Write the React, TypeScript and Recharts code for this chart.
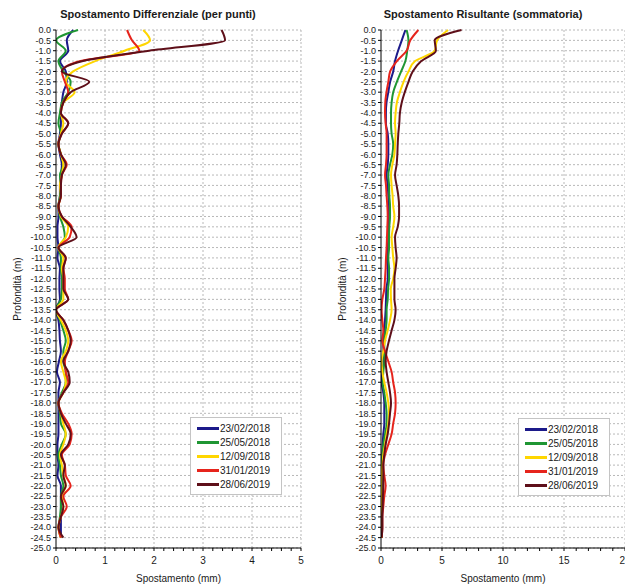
import { CartesianGrid, Label, Line, LineChart, ReferenceLine, XAxis, YAxis } from "recharts";

// profondità (m)
const depths = [
  0, -0.5, -1, -1.5, -2, -2.5, -3, -3.5, -4, -4.5, -5, -5.5, -6, -6.5, -7, -7.5, -8, -8.5, -9, -9.5,
  -10, -10.5, -11, -11.5, -12, -12.5, -13, -13.5, -14, -14.5, -15, -15.5, -16, -16.5, -17, -17.5,
  -18, -18.5, -19, -19.5, -20, -20.5, -21, -21.5, -22, -22.5, -23, -23.5, -24, -24.5,
];
const depthTicks = [...depths, -25];

const dates = ["23/02/2018", "25/05/2018", "12/09/2018", "31/01/2019", "28/06/2019"];

// spostamento differenziale (mm)
const diff1 = [
  0.35, 0.22, 0.25, 0.08, 0.2, 0.22, 0.15, 0.12, 0.1, 0.1, 0.08, 0.05, 0.08, 0.12, 0.1, 0.08, 0.08, 0.05, 0.05, 0.03,
  0.03, 0.05, 0.03, 0.08, 0.07, 0.07, 0.08, 0, 0.05, 0.07, 0.08, 0.1, 0.06, 0.02, 0.08, 0.05, 0.05, 0.05, 0.05, 0.05,
  0.03, 0.03, 0.05, 0.03, 0.1, 0.1, 0.1, 0.1, 0.1, 0.1,
];
const diff2 = [
  0.45, 0, 0.2, 0.05, 0.15, 0.3, 0.25, 0.12, 0.08, 0.05, 0.1, 0.05, 0.1, 0.15, 0.08, 0.1, 0.08, 0.05, 0.08, 0.15,
  0.18, 0.05, 0.1, 0.1, 0.12, 0.12, 0.1, 0, 0.08, 0.15, 0.2, 0.15, 0.15, 0.2, 0.2, 0.12, 0.05, 0.08, 0.1, 0.2,
  0.12, 0.05, 0.08, 0.1, 0.15, 0.1, 0.1, 0.08, 0.05, 0.1,
];
const diff3 = [
  1.78, 1.92, 1.4, 0.8, 0.35, 0.2, 0.38, 0.15, 0.1, 0.15, 0.1, 0.05, 0.1, 0.15, 0.12, 0.08, 0.1, 0.05, 0.1, 0.25,
  0.2, 0.05, 0.15, 0.12, 0.15, 0.15, 0.15, 0, 0.1, 0.2, 0.25, 0.2, 0.1, 0.15, 0.2, 0.15, 0.05, 0.1, 0.15, 0.2,
  0.15, 0.08, 0.12, 0.15, 0.2, 0.12, 0.15, 0.1, 0.05, 0.1,
];
const diff4 = [
  1.45, 1.55, 1.7, 0.5, 0.12, 0.18, 0.25, 0.15, 0.1, 0.25, 0.12, 0.05, 0.1, 0.22, 0.12, 0.1, 0.1, 0.05, 0.12, 0.32,
  0.28, 0.05, 0.2, 0.15, 0.18, 0.18, 0.25, 0, 0.15, 0.25, 0.32, 0.25, 0.18, 0.2, 0.25, 0.15, 0.05, 0.12, 0.25, 0.32,
  0.28, 0.12, 0.18, 0.2, 0.3, 0.15, 0.22, 0.1, 0.05, 0.1,
];
const diff5 = [
  3.38, 3.45, 1.9, 0.55, 0.12, 0.68, 0.3, 0.15, 0.1, 0.25, 0.12, 0.05, 0.1, 0.2, 0.12, 0.1, 0.1, 0.05, 0.12, 0.3,
  0.42, 0.05, 0.2, 0.15, 0.15, 0.15, 0.25, 0, 0.15, 0.25, 0.3, 0.25, 0.15, 0.25, 0.28, 0.15, 0.05, 0.1, 0.2, 0.3,
  0.25, 0.1, 0.18, 0.15, 0.2, 0.1, 0.15, 0.1, 0.05, 0.15,
];

// spostamento risultante (mm)
const cum1 = [
  2.0, 1.7, 1.4, 1.15, 1.0, 0.75, 0.6, 0.45, 0.4, 0.4, 0.55, 0.6, 0.6, 0.55, 0.46, 0.55, 0.6, 0.66, 0.66, 0.6,
  0.6, 0.55, 0.49, 0.55, 0.55, 0.44, 0.41, 0.38, 0.33, 0.27, 0.19, 0.19, 0.19, 0.11, 0.05, 0.19, 0.27, 0.27, 0.27, 0.19,
  0.14, 0.11, 0.05, 0.05, 0.05, 0.05, 0.05, 0.05, 0.05, 0.05,
];
const cum2 = [
  2.1, 2.25, 2.15, 2.0, 1.65, 1.3, 1.0, 0.87, 0.82, 0.82, 0.87, 1.0, 0.93, 0.74, 0.6, 0.66, 0.68, 0.74, 0.74, 0.68,
  0.66, 0.66, 0.6, 0.66, 0.66, 0.58, 0.55, 0.46, 0.46, 0.38, 0.27, 0.27, 0.27, 0.19, 0.14, 0.27, 0.38, 0.46, 0.46, 0.33,
  0.19, 0.11, 0.05, 0.05, 0.05, 0.05, 0.05, 0.05, 0.05, 0.05,
];
const cum3 = [
  5.5, 4.6, 4.4, 2.8, 2.25, 1.85, 1.55, 1.3, 1.2, 1.15, 1.2, 1.15, 1.1, 0.93, 0.82, 0.87, 0.95, 1.0, 1.1, 1.0,
  0.87, 0.93, 1.0, 1.1, 1.0, 0.8, 0.82, 0.87, 0.74, 0.55, 0.33, 0.19, 0.05, 0.11, 0.27, 0.46, 0.6, 0.66, 0.6, 0.46,
  0.33, 0.19, 0.11, 0.05, 0, 0.05, 0.05, 0.05, 0.05, 0.05,
];
const cum4 = [
  3.06, 2.4, 2.1, 1.3, 0.75, 0.6, 0.45, 0.35, 0.33, 0.38, 0.46, 0.46, 0.46, 0.41, 0.33, 0.41, 0.46, 0.52, 0.55, 0.52,
  0.49, 0.46, 0.41, 0.38, 0.33, 0.27, 0.11, 0.05, 0.11, 0.19, 0.11, 0.33, 0.6, 0.87, 1.0, 1.15, 1.2, 1.15, 1.0, 0.87,
  0.6, 0.33, 0.19, 0.27, 0.38, 0.27, 0.19, 0.11, 0.11, 0.05,
];
const cum5 = [
  6.6, 4.4, 4.5, 3.3, 2.6, 2.25, 1.95, 1.7, 1.55, 1.5, 1.42, 1.37, 1.34, 1.28, 1.15, 1.28, 1.42, 1.48, 1.48, 1.37,
  1.15, 1.2, 1.28, 1.2, 1.1, 1.1, 1.1, 1.2, 1.1, 0.87, 0.65, 0.46, 0.38, 0.46, 0.6, 0.74, 0.82, 0.74, 0.66, 0.55,
  0.38, 0.27, 0.19, 0.19, 0.19, 0.16, 0.14, 0.11, 0.11, 0.05,
];

const leftXTicks = [0, 1, 2, 3, 4, 5];
const rightXTicks = [0, 5, 10, 15, 20];

const seriesColors = ["#1c1a8a", "#1f9633", "#ffd600", "#e6241c", "#5e0f19"];
const series = dates.map((label, i) => ({ key: `s${i}`, label, color: seriesColors[i] }));

function buildRows(values: number[][]) {
  return depths.map((depth, i) => {
    const row: Record<string, number> = { depth };
    values.forEach((arr, k) => {
      row[`s${k}`] = arr[i];
    });
    return row;
  });
}

const diffRows = buildRows([diff1, diff2, diff3, diff4, diff5]);
const cumRows = buildRows([cum1, cum2, cum3, cum4, cum5]);

function minorTicks(max: number, step: number) {
  const n = Math.round(max / step);
  return Array.from({ length: n + 1 }, (_, i) => Math.round(i * step * 1000) / 1000);
}

const gridColor = "#b8b8b8";
const textColor = "#1a1a1a";

type PanelProps = {
  rows: Record<string, number>[];
  width: number;
  axisWidth: number;
  rightGap: number;
  majorTicks: number[];
  minorStep: number;
  labelOffset: number;
};

function ProfilePanel({ rows, width, axisWidth, rightGap, majorTicks, minorStep, labelOffset }: PanelProps) {
  const xMax = majorTicks[majorTicks.length - 1];
  return (
    <LineChart
      width={width}
      height={585}
      data={rows}
      layout="vertical"
      margin={{ top: 30, right: rightGap, bottom: 0, left: 0 }}
    >
      <CartesianGrid vertical={false} stroke={gridColor} strokeDasharray="2 2" />
      {majorTicks
        .filter((v) => v > 0)
        .map((v) => (
          <ReferenceLine key={v} x={v} stroke={gridColor} strokeDasharray="2 2" />
        ))}
      <XAxis
        type="number"
        domain={[0, xMax]}
        ticks={minorTicks(xMax, minorStep)}
        interval={0}
        allowDataOverflow
        height={37}
        tickSize={3}
        tickMargin={6}
        axisLine={{ stroke: "#000" }}
        tickLine={{ stroke: "#000" }}
        tick={{ fontSize: 10, fill: textColor }}
        tickFormatter={(v: number) => (majorTicks.includes(v) ? String(v) : "")}
      >
        <Label value="Spostamento (mm)" position="insideBottom" offset={3} style={{ fontSize: 10, fill: textColor }} />
      </XAxis>
      <YAxis
        type="number"
        dataKey="depth"
        domain={[-25, 0]}
        reversed
        ticks={depthTicks}
        interval={0}
        width={axisWidth}
        tickSize={3}
        axisLine={{ stroke: "#000" }}
        tickLine={{ stroke: "#000" }}
        tick={{ fontSize: 9, fill: textColor }}
        tickFormatter={(v: number) => v.toFixed(1)}
      >
        <Label
          value="Profondità (m)"
          angle={-90}
          position="insideLeft"
          offset={labelOffset}
          style={{ fontSize: 10, fill: textColor, textAnchor: "middle" }}
        />
      </YAxis>
      {series.map((s) => (
        <Line
          key={s.key}
          dataKey={s.key}
          name={s.label}
          type="monotone"
          stroke={s.color}
          strokeWidth={2}
          dot={false}
          isAnimationActive={false}
        />
      ))}
    </LineChart>
  );
}

function DateLegend({ left, top }: { left: number; top: number }) {
  return (
    <div
      style={{
        position: "absolute",
        left,
        top,
        width: 84,
        padding: "3px 0 3px 6px",
        background: "#fff",
        border: "1px solid #c4c4c4",
        fontSize: 10,
        color: textColor,
      }}
    >
      {series.map((s) => (
        <div key={s.key} style={{ display: "flex", alignItems: "center", height: 14 }}>
          <span style={{ display: "inline-block", width: 22, height: 3, background: s.color, marginRight: 1 }} />
          <span>{s.label}</span>
        </div>
      ))}
    </div>
  );
}

export default function App() {
  return (
    <div
      style={{
        position: "fixed",
        left: 0,
        top: 0,
        width: 625,
        height: 585,
        overflow: "hidden",
        background: "#fff",
        fontFamily: "'Liberation Sans', Arial, sans-serif",
      }}
    >
      <div
        style={{
          position: "absolute",
          left: 0,
          top: 8,
          width: 316,
          textAlign: "center",
          fontWeight: "bold",
          fontSize: 11,
          color: textColor,
        }}
      >
        Spostamento Differenziale (per punti)
      </div>
      <div
        style={{
          position: "absolute",
          left: 333,
          top: 8,
          width: 300,
          textAlign: "center",
          fontWeight: "bold",
          fontSize: 11,
          color: textColor,
        }}
      >
        Spostamento Risultante (sommatoria)
      </div>
      <div style={{ position: "absolute", left: 0, top: 0 }}>
        <ProfilePanel
          rows={diffRows}
          width={310}
          axisWidth={56}
          rightGap={9}
          majorTicks={leftXTicks}
          minorStep={0.2}
          labelOffset={17}
        />
      </div>
      <div style={{ position: "absolute", left: 310, top: 0 }}>
        <ProfilePanel
          rows={cumRows}
          width={330}
          axisWidth={71}
          rightGap={15}
          majorTicks={rightXTicks}
          minorStep={1}
          labelOffset={32}
        />
      </div>
      <DateLegend left={190} top={417} />
      <DateLegend left={518} top={418} />
    </div>
  );
}
